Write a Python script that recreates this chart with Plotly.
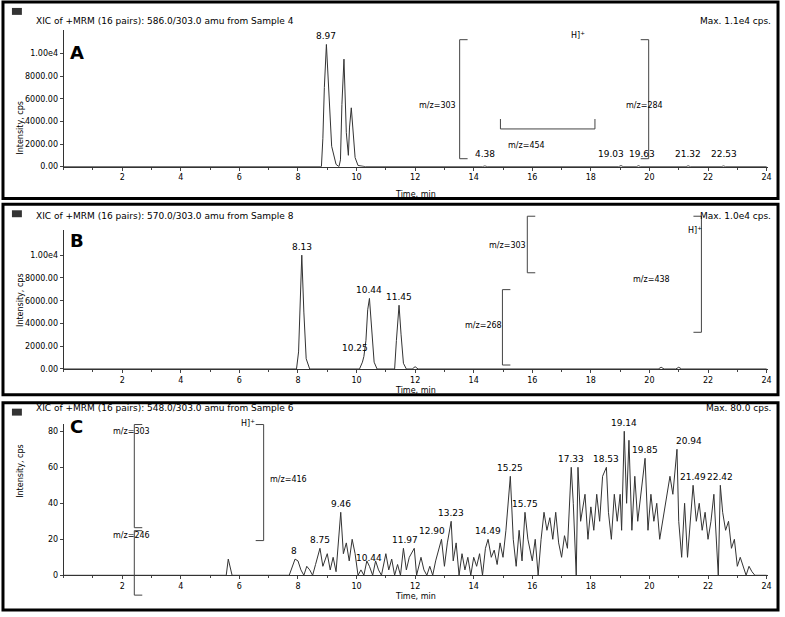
import plotly.graph_objects as go

W, H = 785, 617
# Panel A data
a_t = [0, 14.3, 14.38, 14.46, 8.8, 8.85, 8.9, 8.97, 9.05, 9.15, 9.3, 9.4, 9.45, 9.5, 9.57, 9.65, 9.72, 9.76, 9.82, 9.88, 9.95, 10.05, 10.3, 18.95, 19.03, 19.1, 19.55, 19.63, 19.7, 21.25, 21.32, 21.4, 22.45, 22.53, 22.6, 24]
a_y = [0, 0, 60, 0, 0, 2500, 7000, 10800, 6500, 1800, 200, 0, 600, 5500, 9500, 3000, 1000, 3500, 5200, 3000, 800, 100, 0, 0, 90, 0, 0, 80, 0, 0, 70, 0, 0, 60, 0, 0]
a_t, a_y = zip(*sorted(zip(a_t, a_y)))
# (x, y, text, x-shift px)
a_labels = [(8.97, 10800, "8.97", 0), (14.38, 400, "4.38", 0), (18.7, 400, "19.03", 0),
            (19.75, 400, "19.63", 0), (21.32, 400, "21.32", 0), (22.53, 400, "22.53", 0)]

# Panel B data
b_t = [0, 7.95, 8.02, 8.08, 8.13, 8.2, 8.28, 8.4, 10.1, 10.2, 10.25, 10.32, 10.38, 10.44, 10.52, 10.6, 10.7, 11.3, 11.36, 11.45, 11.52, 11.6, 11.7, 11.9, 12.0, 12.1, 20.3, 20.4, 20.5, 20.9, 21.0, 21.1, 24]
b_y = [0, 0, 1500, 6000, 10000, 5000, 900, 0, 0, 600, 1100, 2500, 5200, 6200, 3000, 600, 0, 0, 2500, 5600, 3000, 500, 0, 0, 200, 0, 0, 150, 0, 0, 150, 0, 0]
b_labels = [(8.13, 10000, "8.13", 0), (9.95, 1100, "10.25", 0), (10.44, 6200, "10.44", 0), (11.45, 5600, "11.45", 0)]

# Panel C data
c_t = [0, 5.55, 5.62, 5.68, 5.75, 7.7, 7.8, 7.9, 8.0, 8.1, 8.2, 8.3, 8.4, 8.5, 8.6, 8.75, 8.85, 9.0, 9.1, 9.2, 9.3, 9.46, 9.55, 9.65, 9.75, 9.85, 9.95, 10.05, 10.15, 10.25, 10.35, 10.44, 10.55, 10.65, 10.75, 10.85, 11.0, 11.1, 11.2, 11.3, 11.4, 11.5, 11.6, 11.7, 11.8, 11.97, 12.05, 12.2, 12.3, 12.4, 12.5, 12.6, 12.7, 12.9, 13.0, 13.1, 13.23, 13.3, 13.4, 13.5, 13.6, 13.7, 13.8, 13.9, 14.0, 14.1, 14.2, 14.3, 14.4, 14.49, 14.6, 14.7, 14.8, 14.9, 15.0, 15.1, 15.25, 15.35, 15.45, 15.55, 15.65, 15.75, 15.85, 16.0, 16.1, 16.2, 16.3, 16.4, 16.5, 16.6, 16.7, 16.8, 16.9, 17.0, 17.1, 17.2, 17.33, 17.4, 17.5, 17.56, 17.65, 17.8, 17.9, 18.0, 18.1, 18.2, 18.3, 18.4, 18.53, 18.6, 18.7, 18.8, 18.9, 19.0, 19.05, 19.14, 19.22, 19.3, 19.4, 19.5, 19.6, 19.7, 19.85, 19.95, 20.05, 20.15, 20.25, 20.35, 20.5, 20.6, 20.7, 20.8, 20.94, 21.0, 21.1, 21.2, 21.3, 21.49, 21.6, 21.7, 21.8, 21.9, 22.0, 22.1, 22.2, 22.35, 22.42, 22.5, 22.6, 22.7, 22.8, 22.9, 23.0, 23.1, 23.2, 23.3, 23.4, 23.5, 23.6, 24]
c_y = [0, 0, 9, 5, 0, 0, 5, 9, 8, 3, 0, 5, 3, 0, 6, 15, 5, 12, 3, 10, 2, 35, 12, 18, 8, 20, 12, 0, 3, 0, 8, 5, 0, 8, 3, 0, 12, 3, 9, 0, 6, 0, 15, 3, 10, 15, 0, 10, 3, 0, 5, 0, 8, 20, 5, 18, 30, 8, 18, 0, 12, 3, 10, 0, 10, 5, 12, 0, 15, 20, 10, 14, 6, 18, 10, 25, 55, 20, 5, 25, 8, 35, 20, 8, 20, 0, 20, 35, 25, 32, 20, 35, 18, 10, 22, 15, 60, 40, 0, 60, 30, 45, 20, 38, 25, 45, 30, 55, 60, 35, 20, 45, 30, 45, 25, 80, 40, 75, 25, 55, 30, 45, 65, 25, 45, 30, 40, 20, 35, 45, 55, 45, 70, 30, 10, 40, 10, 50, 30, 40, 25, 35, 20, 30, 45, 0, 50, 35, 25, 30, 15, 20, 5, 10, 5, 0, 5, 2, 0, 0]
c_labels = [(8.0, 9, "8", -4), (8.75, 15, "8.75", 0), (9.46, 35, "9.46", 0), (10.44, 5, "10.44", 0),
            (11.8, 15, "11.97", -4), (12.7, 20, "12.90", -4), (13.23, 30, "13.23", 0), (14.49, 20, "14.49", 0),
            (15.25, 55, "15.25", 0), (15.75, 35, "15.75", 0), (17.33, 60, "17.33", 0), (18.53, 60, "18.53", 0),
            (19.14, 80, "19.14", 0), (19.85, 65, "19.85", 0), (20.94, 70, "20.94", 12), (21.49, 50, "21.49", 0),
            (22.42, 50, "22.42", 0)]

titles = ["XIC of +MRM (16 pairs): 586.0/303.0 amu from Sample 4",
          "XIC of +MRM (16 pairs): 570.0/303.0 amu from Sample 8",
          "XIC of +MRM (16 pairs): 548.0/303.0 amu from Sample 6"]
maxes = ["Max. 1.1e4 cps.", "Max. 1.0e4 cps.", "Max. 80.0 cps."]
letters = ["A", "B", "C"]
x_ticks = [2, 4, 6, 8, 10, 12, 14, 16, 18, 20, 22, 24]
ab_yticks = [0, 2000, 4000, 6000, 8000, 10000]
ab_ytext = ["0.00", "2000.00", "4000.00", "6000.00", "8000.00", "1.00e4"]
c_yticks = [0, 20, 40, 60, 80]

def py(p):
    return 1 - p / H

def px(p):
    return p / W

FONT = "DejaVu Sans"
TXT = dict(family=FONT, color="black")
panels = [  # frame top, bottom, plot top, plot bottom, y max, letter offset, time-label offset
    (2, 200, 30, 168, 12100, 10, 22),
    (206, 398, 232, 372, 12200, 10, 22),
    (406, 615, 427, 580, 84.3, 16, 28),
]
fig = go.Figure()
data = [(a_t, a_y, a_labels), (b_t, b_y, b_labels), (c_t, c_y, c_labels)]
shapes, anns = [], []
for i, ((ft, fb, pt, pb, ymax, lo, to), (t, y, labs)) in enumerate(zip(panels, data)):
    n = "" if i == 0 else str(i + 1)
    fig.add_trace(go.Scatter(x=list(t), y=list(y), mode="lines", line=dict(color="#333", width=1),
                             xaxis="x" + n, yaxis="y" + n, showlegend=False, hoverinfo="skip"))
    fig.update_layout(**{
        "xaxis" + n: dict(domain=[px(64), px(772)], range=[0, 24.05], tickvals=x_ticks,
                          ticks="outside", ticklen=3, showgrid=False, zeroline=False, showline=True,
                          linecolor="#333", anchor="y" + n, tickfont=dict(size=8, **TXT),
                          minor=dict(dtick=1, ticks="outside", ticklen=2)),
        "yaxis" + n: dict(domain=[py(pb), py(pt)], range=[0, ymax],
                          tickvals=ab_yticks if i < 2 else c_yticks,
                          ticktext=ab_ytext if i < 2 else None,
                          ticks="outside", ticklen=3, showgrid=False, zeroline=False, showline=True,
                          linecolor="#333", anchor="x" + n, tickfont=dict(size=8, **TXT)),
    })
    shapes.append(dict(type="rect", xref="paper", yref="paper", x0=px(3), x1=px(782),
                       y0=py(fb), y1=py(ft), line=dict(color="black", width=3)))
    shapes.append(dict(type="rect", xref="paper", yref="paper", x0=px(12), x1=px(22),
                       y0=py(ft + 13), y1=py(ft + 6), fillcolor="#333", line=dict(width=0)))
    anns.append(dict(xref="paper", yref="paper", x=px(34), y=py(ft + 12), text=titles[i],
                     showarrow=False, xanchor="left", font=dict(size=9, **TXT)))
    anns.append(dict(xref="paper", yref="paper", x=px(777), y=py(ft + 12), text=maxes[i],
                     showarrow=False, xanchor="right", font=dict(size=9, **TXT)))
    anns.append(dict(xref="paper", yref="paper", x=px(68), y=py(pt + lo), text="<b>" + letters[i] + "</b>",
                     showarrow=False, xanchor="left", font=dict(size=18, **TXT)))
    anns.append(dict(xref="paper", yref="paper", x=px(14), y=(py(pt) + py(pb)) / 2, text="Intensity, cps",
                     showarrow=False, textangle=-90, font=dict(size=8, **TXT)))
    anns.append(dict(xref="paper", yref="paper", x=px(418), y=py(pb + to), text="Time, min",
                     showarrow=False, font=dict(size=8, **TXT)))
    for (lx, ly, lt, sh) in labs:
        anns.append(dict(xref="x" + n, yref="y" + n, x=lx, y=ly, text=lt, showarrow=False,
                         yanchor="bottom", yshift=1, xshift=sh, font=dict(size=9, **TXT)))

# structure annotations (m/z labels)
mz = [(440, 100, "m/z=303"), (668, 100, "m/z=284"), (550, 140, "m/z=454"), (590, 28, "H]<sup>+</sup>"),
      (510, 248, "m/z=303"), (675, 282, "m/z=438"), (486, 328, "m/z=268"), (708, 232, "H]<sup>+</sup>"),
      (112, 442, "m/z=303"), (290, 490, "m/z=416"), (112, 546, "m/z=246"), (240, 434, "H]<sup>+</sup>")]
for (x, y, t) in mz:
    anns.append(dict(xref="paper", yref="paper", x=px(x), y=py(y), text=t, showarrow=False,
                     font=dict(size=8, **TXT)))
brackets = [(462, 40, 470, 160), (652, 40, 644, 160), (530, 218, 538, 275), (705, 218, 697, 335),
            (505, 292, 513, 368), (135, 428, 143, 532), (265, 428, 257, 545), (135, 535, 143, 600)]
for (x0, y0, x1, y1) in brackets:
    shapes.append(dict(type="path", xref="paper", yref="paper",
                       path=f"M {px(x1)},{py(y0)} L {px(x0)},{py(y0)} L {px(x0)},{py(y1)} L {px(x1)},{py(y1)}",
                       line=dict(color="#444", width=1)))
shapes.append(dict(type="path", xref="paper", yref="paper",
                   path=f"M {px(503)},{py(120)} L {px(503)},{py(130)} L {px(598)},{py(130)} L {px(598)},{py(120)}",
                   line=dict(color="#444", width=1)))

fig.update_layout(width=W, height=H, margin=dict(l=0, r=0, t=0, b=0), plot_bgcolor="white",
                  paper_bgcolor="white", shapes=shapes, annotations=anns)
fig.write_html("out.html", config={"displayModeBar": False},
               post_script="document.body.style.margin='0';document.body.style.overflow='hidden';")
